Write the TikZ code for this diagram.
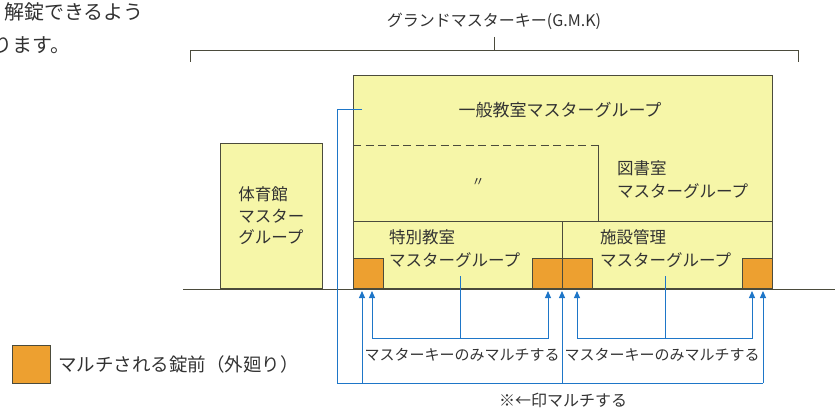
\documentclass[tikz,border=0pt]{standalone}
\usepackage{fontspec}
\setmainfont{Noto Sans CJK JP}
\usetikzlibrary{arrows.meta,positioning}

\definecolor{groupyellow}{RGB}{246,246,168}
\definecolor{lockorange}{RGB}{237,160,48}
\definecolor{keyblue}{RGB}{30,118,200}
\definecolor{wallgray}{RGB}{75,75,60}
\definecolor{inkgray}{RGB}{50,50,50}

\begin{document}
\begin{tikzpicture}[x=1pt, y=1pt,
        group/.style={draw=wallgray, fill=groupyellow, line width=0.9pt, inner sep=0pt},
        lock/.style={draw=wallgray, fill=lockorange, line width=0.9pt, inner sep=0pt, minimum width=30pt, minimum height=30pt, anchor=south west},
        wall/.style={wallgray, line width=0.9pt},
        keyline/.style={keyblue, line width=1pt},
        keyarrow/.style={keyline, -{Triangle[length=7pt, width=6pt]}},
        keyboth/.style={keyline, {Triangle[length=7pt, width=6pt]}-{Triangle[length=7pt, width=6pt]}},
        grouptext/.style={text=inkgray, inner sep=0pt, align=left, font=\fontsize{16.5}{23}\selectfont},
        keytext/.style={text=inkgray, inner sep=0pt, font=\fontsize{15}{18}\selectfont},
    ]
        \useasboundingbox (0,0) rectangle (838,413);

        \node[text=inkgray, inner sep=0pt, font=\fontsize{20}{24}\selectfont, anchor=west] (introtop) at (4,401) {解錠できるよう};
        \node[text=inkgray, inner sep=0pt, font=\fontsize{20}{24}\selectfont, anchor=west] (introbot) at (-8,368) {ります。};

        % grand master key
        \node[keytext, font=\fontsize{16}{18}\selectfont] (gmk) at (494,392) {グランドマスターキー(G.M.K)};
        \coordinate (gmktick) at (494,376);
        \draw[wall, line width=0.8pt] (190,351) -- (190,363) -- (798,363) -- (798,351);
        \draw[wall, line width=0.8pt] (gmktick) -- (gmktick |- 0,363);

        % school building
        \node[group, minimum width=419pt, minimum height=213pt, anchor=south west] (school) at (353,124) {};
        \draw[wall, dash pattern=on 8pt off 4.5pt] (353,268) -- (598,268);
        \draw[wall] (598,268) -- (598,192);
        \draw[wall] (353,192) -- (772,192);
        \draw[wall] (562,192) -- (562,124);

        \node[grouptext, font=\fontsize{17}{22}\selectfont] (general) at (560,303) {一般教室マスターグループ};
        \node[grouptext, font=\fontsize{13}{16}\selectfont] (ditto) at (478,231) {〃};
        \node[grouptext, anchor=west] (library) at (617,233) {図書室\\マスターグループ};
        \node[grouptext, anchor=west] (special) at (389,164) {特別教室\\マスターグループ};
        \node[grouptext, anchor=west] (facility) at (600,164) {施設管理\\マスターグループ};

        \node[group, grouptext, font=\fontsize{16.5}{21.5}\selectfont, minimum width=102pt, minimum height=145pt, anchor=south west] (gym) at (220,124) {体育館\\マスター\\グループ};

        % locks
        \node[lock] (lock1) at (353,124) {};
        \node[lock] (lock2) at (532,124) {};
        \node[lock] (lock3) at (562,124) {};
        \node[lock] (lock4) at (742,124) {};

        \draw[wall] (183,124) -- (835,124);

        % key wiring
        \coordinate (feed) at (362,303);
        \coordinate (loopnw) at (337,303);
        \coordinate (loopsw) at (337,30);
        \coordinate (loopse) at (763,30);
        \coordinate (spbar) at (460,75);
        \coordinate (fcbar) at (665,75);
        \foreach \name/\x in {t1/362, t2/372, t3/548, t4/562, t5/577, t6/752, t7/763}
            \coordinate (\name) at (\x,122);

        \draw[keyline] (feed) -- (loopnw) -- (loopsw) -- (loopse);
        \draw[keyarrow] (loopse) -- (t7);
        \draw[keyarrow] (t1 |- loopsw) -- (t1);
        \draw[keyarrow] (t4 |- loopsw) -- (t4);

        \draw[keyboth] (t2) -- (t2 |- spbar) -- (t3 |- spbar) -- (t3);
        \draw[keyline] (spbar) -- (spbar |- 0,137);
        \draw[keyboth] (t5) -- (t5 |- fcbar) -- (t6 |- fcbar) -- (t6);
        \draw[keyline] (fcbar) -- (fcbar |- 0,137);

        \node[keytext] (onlyleft) at (462,58) {マスターキーのみマルチする};
        \node[keytext] (onlyright) at (662,58) {マスターキーのみマルチする};
        \node[keytext, font=\fontsize{16}{20}\selectfont] (note) at (563,13) {※←印マルチする};

        % legend
        \node[lock, minimum width=38pt, minimum height=38pt] (legendlock) at (12,29) {};
        \node[grouptext, font=\fontsize{18.5}{22}\selectfont, right=7pt of legendlock] (legend) {マルチされる錠前（外廻り）};
    \end{tikzpicture}
\end{document}
